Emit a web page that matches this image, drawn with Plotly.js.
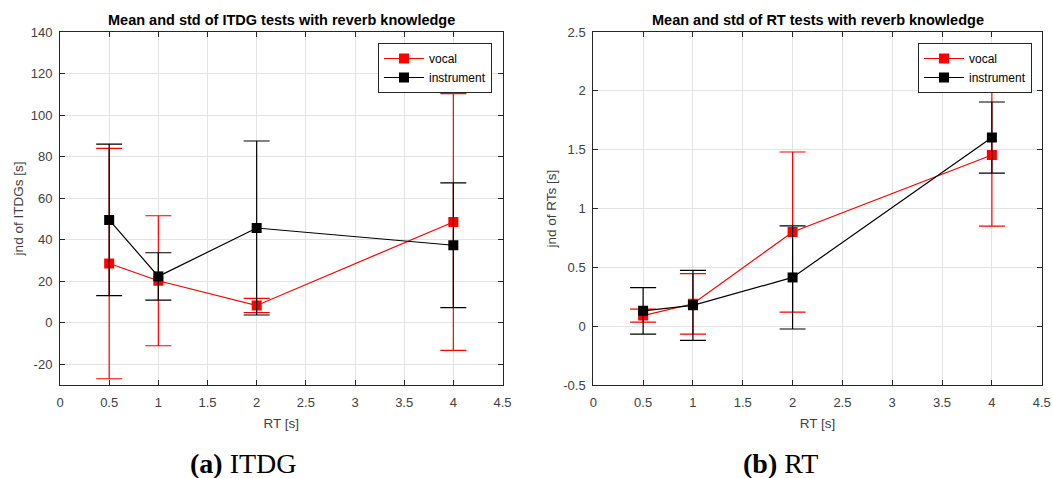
<!DOCTYPE html>
<html>
<head>
<meta charset="utf-8">
<script src="https://cdn.plot.ly/plotly-3.0.1.min.js"></script>
<style>html,body{margin:0;padding:0;background:#fff;}#chart{width:1053px;height:478px;}</style>
</head>
<body>
<div id="chart"></div>
<script>
// Reverberation times (x)
var rt = [0.5, 1, 2, 4];
// ITDG test: mean and std
var itdgVocalMean = [28.5, 20.2, 8.3, 48.5];
var itdgVocalStd = [55.5, 31.3, 3.4, 61.8];
var itdgInstrMean = [49.5, 22.3, 45.6, 37.3];
var itdgInstrStd = [36.5, 11.4, 41.9, 30.0];
// RT test: mean and std
var rtVocalMean = [0.09, 0.19, 0.80, 1.455];
var rtVocalStd = [0.055, 0.257, 0.68, 0.605];
var rtInstrMean = [0.13, 0.177, 0.414, 1.603];
var rtInstrStd = [0.197, 0.297, 0.438, 0.302];

var xTicks = [0, 0.5, 1, 1.5, 2, 2.5, 3, 3.5, 4, 4.5];
var yTicksA = [-20, 0, 20, 40, 60, 80, 100, 120, 140];
var yTicksB = [-0.5, 0, 0.5, 1, 1.5, 2, 2.5];

var RED = '#ff0000', BLACK = '#000000';
function tr(x, y, e, color, name, xa, ya, leg) {
  return {
    x: x, y: y, type: 'scatter', mode: 'lines+markers', name: name,
    xaxis: xa, yaxis: ya, legend: leg, showlegend: true,
    line: {color: color, width: 1.2},
    marker: {symbol: 'square', size: 10, color: color},
    error_y: {type: 'data', array: e, visible: true, color: color, thickness: 1.2, width: 13}
  };
}
var data = [
  tr(rt, itdgVocalMean, itdgVocalStd, RED, 'vocal', 'x', 'y', 'legend'),
  tr(rt, itdgInstrMean, itdgInstrStd, BLACK, 'instrument', 'x', 'y', 'legend'),
  tr(rt, rtVocalMean, rtVocalStd, RED, 'vocal', 'x2', 'y2', 'legend2'),
  tr(rt, rtInstrMean, rtInstrStd, BLACK, 'instrument', 'x2', 'y2', 'legend2')
];

var W = 1053, H = 478;
var axCol = '#262626';
var SANS = 'Liberation Sans, Arial, sans-serif';
var tickFont = {family: SANS, size: 13, color: '#404040'};
function xax(dom, anchor) {
  return {
    domain: dom, anchor: anchor, range: [0, 4.5], tickvals: xTicks,
    ticktext: xTicks.map(String), showgrid: true, gridcolor: '#e3e3e3', zeroline: false,
    showline: true, linecolor: axCol, linewidth: 1, mirror: 'ticks',
    ticks: 'inside', ticklen: 5, tickcolor: axCol, tickfont: tickFont, ticklabelstandoff: 5,
    title: {text: 'RT [s]', font: {family: SANS, size: 13.5, color: '#404040'}, standoff: 9}
  };
}
function yax(dom, anchor, range, ticks, label) {
  return {
    domain: dom, anchor: anchor, range: range, tickvals: ticks,
    ticktext: ticks.map(String), showgrid: true, gridcolor: '#e3e3e3', zeroline: false,
    showline: true, linecolor: axCol, linewidth: 1, mirror: 'ticks',
    ticks: 'inside', ticklen: 5, tickcolor: axCol, tickfont: tickFont, ticklabelstandoff: 4,
    title: {text: label, font: {family: SANS, size: 13.5, color: '#404040'}, standoff: 3}
  };
}
var yDom = [93 / H, 446 / H];
var legendStyle = function (xr) {
  return {
    x: xr / W, xanchor: 'right', y: 1 - 43 / H, yanchor: 'top',
    bgcolor: '#ffffff', bordercolor: axCol, borderwidth: 1,
    font: {family: SANS, size: 12, color: '#000'},
    tracegroupgap: 0, itemwidth: 40
  };
};
var layout = {
  width: W, height: H, margin: {l: 0, r: 0, t: 0, b: 0},
  paper_bgcolor: '#ffffff', plot_bgcolor: '#ffffff',
  xaxis: xax([60 / W, 502.5 / W], 'y'),
  yaxis: yax(yDom, 'x', [-30, 140], yTicksA, 'jnd of ITDGs [s]'),
  xaxis2: xax([593.3 / W, 1041.7 / W], 'y2'),
  yaxis2: yax(yDom, 'x2', [-0.5, 2.5], yTicksB, 'jnd of RTs [s]'),
  legend: legendStyle(492),
  legend2: legendStyle(1032),
  annotations: [
    {text: '<b>Mean and std of ITDG tests with reverb knowledge</b>', xref: 'paper', yref: 'paper',
     x: 281 / W, y: 1 - 20 / H, xanchor: 'center', yanchor: 'middle', showarrow: false,
     font: {family: SANS, size: 14.5, color: '#000'}},
    {text: '<b>Mean and std of RT tests with reverb knowledge</b>', xref: 'paper', yref: 'paper',
     x: 818 / W, y: 1 - 20 / H, xanchor: 'center', yanchor: 'middle', showarrow: false,
     font: {family: SANS, size: 14.5, color: '#000'}},
    {text: '<b>(a)</b> ITDG', xref: 'paper', yref: 'paper',
     x: 243 / W, y: 1 - 463 / H, xanchor: 'center', yanchor: 'middle', showarrow: false,
     font: {family: 'Liberation Serif, DejaVu Serif, serif', size: 28, color: '#000'}},
    {text: '<b>(b)</b> RT', xref: 'paper', yref: 'paper',
     x: 780 / W, y: 1 - 463 / H, xanchor: 'center', yanchor: 'middle', showarrow: false,
     font: {family: 'Liberation Serif, DejaVu Serif, serif', size: 28, color: '#000'}}
  ]
};
Plotly.newPlot('chart', data, layout, {displayModeBar: false, responsive: false});
</script>
</body>
</html>
